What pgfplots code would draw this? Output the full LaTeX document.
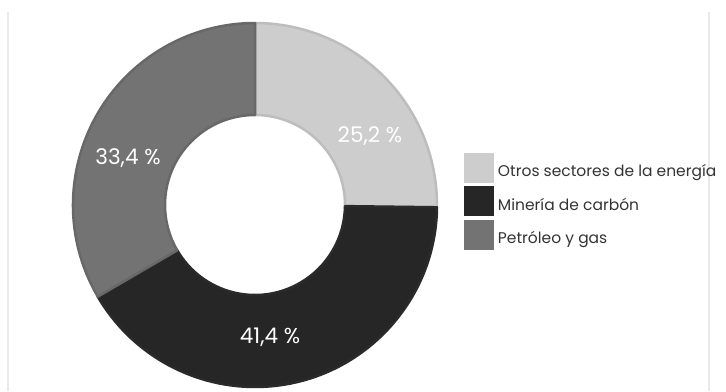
\documentclass[border=0pt]{standalone}
\usepackage{pgfplots}
\pgfplotsset{compat=1.18}
\usepackage{fontspec}
\setmainfont{Poppins}
\definecolor{cLight}{HTML}{CDCDCD}
\definecolor{cLightB}{HTML}{BDBDBD}
\definecolor{cDark}{HTML}{262626}
\definecolor{cDarkB}{HTML}{2A2A2A}
\definecolor{cMid}{HTML}{737373}
\definecolor{cMidB}{HTML}{686868}
\definecolor{cFrame}{HTML}{EAEAEA}
\definecolor{cText}{HTML}{333333}
% values (percent)
\def\vA{25.2}\def\vB{41.4}\def\vC{33.4}
\newcommand\ringslice[4]{% start angle, value, fill, border
  \pgfmathsetmacro\sa{#1}%
  \pgfmathsetmacro\ea{#1-3.6*#2}%
  \edef\tmp{\noexpand\filldraw[fill=#3,draw=#4,line width=2.5pt,line join=round]
    (axis cs:255,186) ++(\sa:182pt) arc[start angle=\sa,end angle=\ea,radius=182pt]
    -- ++(\ea:-92pt) arc[start angle=\ea,end angle=\sa,radius=90pt] -- cycle;}%
  \tmp}
\begin{document}
\begin{tikzpicture}
\begin{axis}[
  scale only axis, width=726pt, height=391pt,
  xmin=0, xmax=726, ymin=0, ymax=391,
  hide axis, clip=false,
  legend style={at={(axis cs:464,238.5)}, anchor=north west, draw=none, fill=none,
    font=\fontsize{15.5}{17}\selectfont, text=cText, row sep=4.3pt,
    inner sep=0pt, outer sep=0pt, /tikz/every even column/.append style={column sep=0pt}},
  legend cell align=left,
  legend image code/.code={\fill[#1] (0pt,-10.5pt) rectangle (29pt,18.5pt);},
]
\path (axis cs:0,0) rectangle (axis cs:726,391);
\draw[cFrame, line width=1.8pt] (axis cs:8,0) -- (axis cs:8,379);
\draw[cFrame, line width=1.8pt] (axis cs:709,0) -- (axis cs:709,379);
\ringslice{90}{\vA}{cLight}{cLightB}
\ringslice{90-3.6*\vA}{\vB}{cDark}{cDarkB}
\ringslice{90-3.6*(\vA+\vB)}{\vC}{cMid}{cMidB}
\node[white, font=\fontsize{21.5}{24}\selectfont] at (axis cs:370,255) {25,2 \%};
\node[white, font=\fontsize{21.5}{24}\selectfont] at (axis cs:270,54) {41,4 \%};
\node[white, font=\fontsize{21.5}{24}\selectfont] at (axis cs:128,233) {33,4 \%};
\addlegendimage{cLight}
\addlegendentry{\,Otros sectores de la energía}
\addlegendimage{cDark}
\addlegendentry{\,Minería de carbón}
\addlegendimage{cMid}
\addlegendentry{\,Petróleo y gas}
\end{axis}
\end{tikzpicture}
\end{document}
